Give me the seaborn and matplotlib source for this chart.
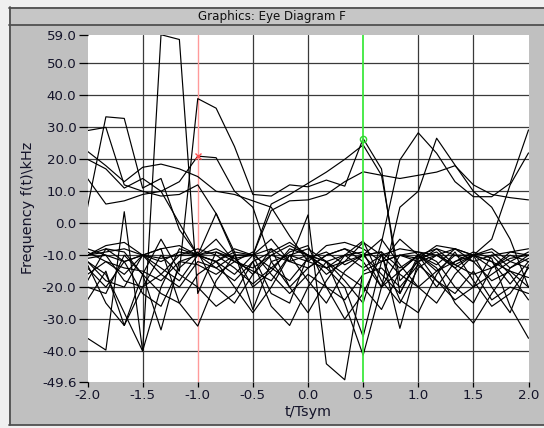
import numpy as np
import pandas as pd
import matplotlib
matplotlib.use("Agg")
import matplotlib.pyplot as plt
from matplotlib.patches import Rectangle
from matplotlib.lines import Line2D
import seaborn as sns

# Sample instants: 6 samples per symbol over t/Tsym = -2 .. 2
t_sym = [-2 + k / 6 for k in range(25)]

# Frequency traces (kHz), one per overlaid symbol window
trace_01 = [-12, -16, -28, -40, 59, 57.5, -22, -9, -11, -10, -14, -18, -11, -9, -13, -10, -16, -22, -11, -9, -14, -10, -12, -19, -12]
trace_02 = [-10, -8, -9, -16, -5, -15, 39, 36, 24, 9, 8.5, 12, 11.4, 13.5, 11.6, 26.5, 17, -22, -10, -15, -12, -10, -9, -14, -11]
trace_03 = [29, 30, 12, 10, 8.5, 9, 12, 3, -10, -20, -15, -8, -10, -14, -20, -35.5, -12, -5, -10, -13, -8, -10, -14, -11, -10]
trace_04 = [5, 33.3, 32.8, 11, 14, -2, -10, -12, -16, -10, -8, -12, -10, -16, -12, -10, -9, -14, -10, -8, -13, -16, -14, -9, -10]
trace_05 = [22.5, 18, 13, 17.5, 18.5, 17, 14.6, 10, 9, 7, 5, -4, -12, -14, -10, -5.5, -18, -25, -14, -10, -8, -10, -12, -15, -17]
trace_06 = [14, 6, 7, 9, 10, 13, 21, 20.5, 10, 5, -12, -20, -14, -10, -8, -12, -20, -15, -10, -14, -25, -31.3, -22, -14, -10]
trace_07 = [20, 17, 11, 14, 10, 0, -10, -5, -12, -14, -10, -12, 2.6, -44, -49, -15, -12, -10, -9, -10, -13, -10, -8, -12, -14]
trace_08 = [-36, -39.7, 3.6, -40, -20, -8, -10, -12, -20, -28, -20, -10, -8, -12, -25, -41.3, -20, -10, -12, -20, -12, -9, -11, -26, -36]
trace_09 = [-24, -15, -32, -16, -33.4, -12, -10, 3.1, -9, -27, -12, -10, -18, -25, -15, -10, -9, -32.9, -12, -10, -14, -20, -16, -12, -9]
trace_10 = [-12, -18, -20, -10, -8, -25, -32.2, -18, -10, -10, -5, -12, -14, -10, -8, -10, -5, -13, -20, -15, -10, -12, -18, -15, -20]
trace_11 = [-10, -7, -6, -10, -8, -7, -10, -9, -12, -15, -18, -10, -12, -7, -6, -8, -12, -10, -11, -7, -8, -12, -10, -9, -8]
trace_12 = [-16, -12, -14, -15, -18, -12, -13, -16, -12, -9, -16, -22, -16, -20, -24, -16, -14, -20, -13, -18, -22, -15, -24, -20, -22]
trace_13 = [-11, -10, -12, -10, -14, -18, -10, -8, -11, -16, -10, -7, -10, -12, -18, -25, -6, 19.8, 28.3, 21.9, 13, 8.3, 8.3, 12.5, 29.2]
trace_14 = [-14, -20, -12, -10, -12, -9, -10, -14, -18, -12, -9, -6, -10, -12, -10, -9, -20, 5, 10, 26.6, 18.2, 10, 5, -5, -20]
trace_15 = [-9, -12, -16, -10, -16, -20, -12, -14, -10, -10, 6, 9, 12.5, 16, 20, 24.5, 15, -18, -12, -8, -10, -10, -5, 12, 22]
trace_16 = [-10, -9, -8, -10, -11, -10, -10, -12, -9, -10, 4, 7, 7.3, 9, 13, 16.1, 15, 14, 15, 16, 18, 12, 9, 8, 7.3]
trace_17 = [-20, -22, -10, -16, -22, -25, -16, -12, -8, -10, -22, -25, -10, -14, -12, -6, -10, -16, -20, -25, -16, -10, -20, -28, -13]
trace_18 = [-8, -10, -18, -20, -16, -10, -8, -10, -14, -19, -14, -9, -7, -20, -30, -22, -10, -8, -9, -12, -20, -25, -14, -10, -12]
trace_19 = [-13, -25, -32, -20, -10, -16, -20, -26, -22, -12, -26, -32, -20, -12, -16, -20, -27, -15, -10, -18, -24, -20, -10, -16, -24]
trace_20 = [-18, -8, -12, -22, -26, -14, -9, -20, -25, -16, -8, -20, -28, -18, -10, -14, -10, -24, -28, -16, -9, -18, -26, -22, -14]

traces = [trace_01, trace_02, trace_03, trace_04, trace_05, trace_06,
          trace_07, trace_08, trace_09, trace_10, trace_11, trace_12,
          trace_13, trace_14, trace_15, trace_16, trace_17, trace_18,
          trace_19, trace_20]

# Cursor positions and readouts
cursor_red_t = -1.0
cursor_red_f = 21.0
cursor_green_t = 0.5
cursor_green_f = 26.5

y_ticks = [59.0, 50.0, 40.0, 30.0, 20.0, 10.0, 0.0, -10.0, -20.0, -30.0, -40.0, -49.6]
x_ticks = [-2.0, -1.5, -1.0, -0.5, 0.0, 0.5, 1.0, 1.5, 2.0]

df = pd.DataFrame({
    "t": np.tile(t_sym, len(traces)),
    "f": np.concatenate(traces),
    "trace": np.repeat(np.arange(len(traces)), len(t_sym)),
})

sns.set_style("white")
plt.rcParams["font.family"] = ["DejaVu Sans"]
plt.rcParams["axes.unicode_minus"] = False

W, H = 544, 428
fig = plt.figure(figsize=(W / 100, H / 100), dpi=100)
fig.patch.set_facecolor("#f0f0f0")

# Window chrome drawn in pixel coordinates
bg = fig.add_axes([0, 0, 1, 1], zorder=-5)
bg.set_xlim(0, W)
bg.set_ylim(H, 0)
bg.axis("off")
bg.add_patch(Rectangle((9, 7), W - 9, 418, facecolor="#c0c0c0", edgecolor="none"))
bg.add_patch(Rectangle((9, 7), W - 9, 18, facecolor="#c6c6c6", edgecolor="none"))
for y in (7.5, 24.5):
    bg.add_line(Line2D([9, W], [y, y], color="#505050", lw=1.3))
bg.add_line(Line2D([9.5, 9.5], [7, 425], color="#505050", lw=1.3))
bg.add_line(Line2D([9, W], [424.5, 424.5], color="#505050", lw=1.3))
bg.text(272, 16.5, "Graphics: Eye Diagram F", ha="center", va="center",
        fontsize=8.6, color="#101010")

left, right, top, bottom = 87.5, 528.5, 34.7, 381.7
ax = fig.add_axes([left / W, 1 - bottom / H, (right - left) / W, (bottom - top) / H])
ax.set_facecolor("white")

sns.lineplot(data=df, x="t", y="f", units="trace", estimator=None,
             color="black", lw=0.85, ax=ax, legend=False, zorder=3)

ax.set_xlim(-2, 2)
ax.set_ylim(-49.6, 59)
ax.set_xticks(x_ticks)
ax.set_xticklabels([f"{v:.1f}" for v in x_ticks])
ax.set_yticks(y_ticks)
ax.set_yticklabels([f"{v:.1f}" for v in y_ticks])
ax.tick_params(axis="y", direction="out", length=6.5, width=0.9, pad=1.5,
               labelsize=9.6, color="black", labelcolor="#14142a", left=True)
ax.tick_params(axis="x", direction="out", length=3.5, width=0.9, pad=2,
               labelsize=9.6, color="black", labelcolor="#14142a", bottom=True)

for v in [50, 40, 30, 20, 10, 0, -10, -20, -30, -40]:
    ax.axhline(v, color="#3a3a3a", lw=0.9, zorder=1)
for v in [-1.5, -0.5, 0.0, 1.0, 1.5]:
    ax.axvline(v, color="#3a3a3a", lw=0.9, zorder=1)

ax.axvline(cursor_red_t, color="#ff9a9a", lw=1.0, zorder=2)
ax.axvline(cursor_green_t, color="#3ee83e", lw=1.3, zorder=4)
ax.plot([cursor_red_t], [cursor_red_f], marker="x", ms=5, mew=1.0,
        color="#ff5050", zorder=5)
ax.plot([cursor_green_t], [cursor_green_f], marker="o", ms=4.5, mew=1.0,
        mfc="none", mec="#2ed82e", zorder=5)

for s in ax.spines.values():
    s.set_visible(False)

ax.set_xlabel("t/Tsym", fontsize=10.4, color="#14142a", labelpad=2)
ax.set_ylabel("Frequency f(t)\\kHz", fontsize=10.4, color="#14142a", labelpad=5)

fig.savefig("out.png", dpi=100, facecolor=fig.get_facecolor())
